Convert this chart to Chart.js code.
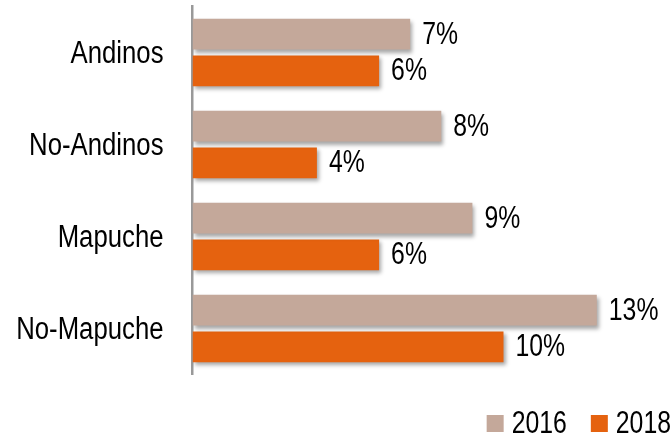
<!DOCTYPE html>
<html>
<head>
<meta charset="utf-8">
<script src="https://cdn.jsdelivr.net/npm/chart.js@4/dist/chart.umd.min.js"></script>
<style>
  html, body { margin: 0; padding: 0; background: #fff; }
</style>
</head>
<body>
<canvas id="chart" width="672" height="439"></canvas>
<script>
const categories = ['Andinos', 'No-Andinos', 'Mapuche', 'No-Mapuche'];
const values2016 = [7, 8, 9, 13];
const values2018 = [6, 4, 6, 10];
const seriesLabels = ['2016', '2018'];
const seriesColors = ['#C4A89A', '#E5620F'];

const FONT = "'Liberation Sans', Arial, sans-serif";
const FONT_SIZE = 31;

// no Arial Narrow installed, squeeze the regular face horizontally
function narrowText(ctx, text, x, y, align, squeeze) {
  ctx.save();
  ctx.font = FONT_SIZE + 'px ' + FONT;
  ctx.fillStyle = '#000';
  ctx.textBaseline = 'middle';
  ctx.textAlign = align;
  ctx.translate(x, y);
  ctx.scale(squeeze, 1);
  ctx.fillText(text, 0, 0);
  ctx.restore();
}

function narrowWidth(ctx, text, squeeze) {
  ctx.save();
  ctx.font = FONT_SIZE + 'px ' + FONT;
  const w = ctx.measureText(text).width * squeeze;
  ctx.restore();
  return w;
}

// soft drop shadow under the bars
const shadowPlugin = {
  id: 'barShadow',
  beforeDatasetsDraw(chart) {
    const ctx = chart.ctx;
    ctx.save();
    ctx.shadowColor = 'rgba(0,0,0,0.35)';
    ctx.shadowBlur = 4;
    ctx.shadowOffsetX = 2;
    ctx.shadowOffsetY = 3;
  },
  afterDatasetsDraw(chart) {
    chart.ctx.restore();
  }
};

// category labels, value labels and legend
const textPlugin = {
  id: 'narrowText',
  afterDraw(chart) {
    const ctx = chart.ctx;
    const yScale = chart.scales.y;

    chart.data.labels.forEach((lab, i) => {
      narrowText(ctx, lab, yScale.right - 29, yScale.getPixelForValue(i) + 1.5, 'right', 0.83);
    });

    chart.data.datasets.forEach((ds, i) => {
      chart.getDatasetMeta(i).data.forEach((bar, j) => {
        narrowText(ctx, ds.data[j] + '%', bar.x + 12, bar.y + 1, 'left', 0.8);
      });
    });

    const box = 17, gap = 8, itemGap = 24, yMid = 423.5;
    const items = chart.data.datasets.map(ds => ({
      text: ds.label, color: ds.backgroundColor, w: narrowWidth(ctx, ds.label, 0.8)
    }));
    let total = 0;
    items.forEach((it, i) => { total += box + gap + it.w + (i ? itemGap : 0); });
    let x = chart.width - 1 - total;
    items.forEach(it => {
      ctx.fillStyle = it.color;
      ctx.fillRect(x, yMid - box / 2, box, box);
      narrowText(ctx, it.text, x + box + gap, yMid + 1, 'left', 0.8);
      x += box + gap + it.w + itemGap;
    });
  }
};

new Chart(document.getElementById('chart'), {
  type: 'bar',
  data: {
    labels: categories,
    datasets: [
      { label: seriesLabels[0], data: values2016, backgroundColor: seriesColors[0] },
      { label: seriesLabels[1], data: values2018, backgroundColor: seriesColors[1] }
    ]
  },
  options: {
    indexAxis: 'y',
    responsive: false,
    animation: false,
    categoryPercentage: 0.8,
    barPercentage: 0.84,
    layout: { autoPadding: false, padding: { top: 6.5, right: 13, bottom: 64.5, left: 0 } },
    scales: {
      x: { display: false, min: 0, max: 15 },
      y: {
        grid: { display: false, drawTicks: false },
        border: { display: true, color: '#999', width: 2.5 },
        ticks: { display: false },
        afterFit(scale) { scale.width = 192.5; }
      }
    },
    plugins: {
      legend: { display: false },
      tooltip: { enabled: false }
    }
  },
  plugins: [shadowPlugin, textPlugin]
});
</script>
</body>
</html>
